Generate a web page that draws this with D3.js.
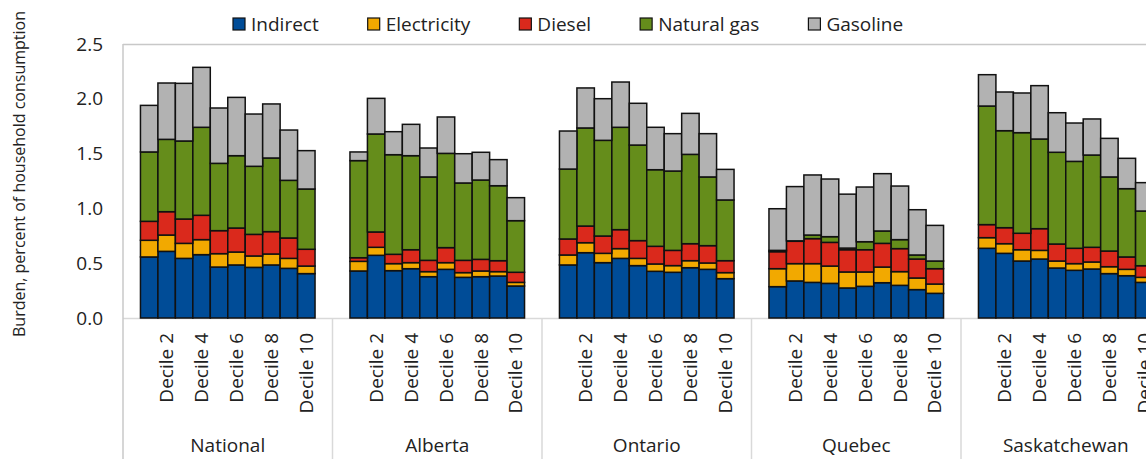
<!DOCTYPE html>
<html><head><meta charset="utf-8">
<script src="https://cdn.jsdelivr.net/npm/d3@7"></script>
<style>
html,body{margin:0;padding:0;background:#fff;overflow:hidden;}
text{font-family:"Open Sans","Noto Sans",sans-serif;fill:#222;}
</style></head>
<body><svg id="c" width="1146" height="459"></svg>
<script>
const regions = ["National","Alberta","Ontario","Quebec","Saskatchewan"];
const deciles = ["Decile 1","Decile 2","Decile 3","Decile 4","Decile 5","Decile 6","Decile 7","Decile 8","Decile 9","Decile 10"];
const seriesNames = ["Indirect","Electricity","Diesel","Natural gas","Gasoline"];
const seriesColors = ["#004C97","#F2A900","#DA291C","#658D1B","#B2B2B2"];
const yTicks = [0,0.5,1.0,1.5,2.0,2.5];

// values per region, ordered by decile 1..10
const indirect = {
  National:     [0.557,0.608,0.544,0.578,0.465,0.484,0.462,0.484,0.453,0.405],
  Alberta:      [0.429,0.572,0.432,0.450,0.377,0.444,0.371,0.377,0.383,0.292],
  Ontario:      [0.484,0.596,0.505,0.544,0.478,0.426,0.417,0.459,0.444,0.359],
  Quebec:       [0.286,0.338,0.325,0.316,0.274,0.289,0.322,0.298,0.259,0.225],
  Saskatchewan: [0.636,0.590,0.520,0.538,0.456,0.435,0.447,0.405,0.386,0.325]
};
const electricity = {
  National:     [0.152,0.149,0.137,0.137,0.122,0.118,0.104,0.100,0.091,0.069],
  Alberta:      [0.088,0.073,0.064,0.055,0.046,0.061,0.043,0.052,0.040,0.033],
  Ontario:      [0.091,0.091,0.085,0.089,0.066,0.067,0.061,0.064,0.058,0.055],
  Quebec:       [0.164,0.158,0.171,0.158,0.146,0.131,0.143,0.125,0.106,0.085],
  Saskatchewan: [0.097,0.088,0.103,0.079,0.064,0.061,0.064,0.063,0.058,0.046]
};
const diesel = {
  National:     [0.173,0.213,0.222,0.222,0.210,0.219,0.197,0.204,0.186,0.153],
  Alberta:      [0.033,0.140,0.085,0.118,0.103,0.137,0.112,0.106,0.100,0.092],
  Ontario:      [0.146,0.152,0.158,0.173,0.162,0.161,0.139,0.155,0.158,0.109],
  Quebec:       [0.155,0.204,0.228,0.216,0.203,0.203,0.216,0.210,0.173,0.140],
  Saskatchewan: [0.119,0.146,0.150,0.198,0.155,0.140,0.134,0.143,0.113,0.106]
};
const naturalGas = {
  National:     [0.633,0.660,0.712,0.803,0.614,0.660,0.621,0.672,0.526,0.550],
  Alberta:      [0.886,0.894,0.909,0.858,0.761,0.860,0.706,0.724,0.684,0.471],
  Ontario:      [0.638,0.895,0.873,0.934,0.872,0.699,0.724,0.815,0.627,0.554],
  Quebec:       [0.012,0.004,0.033,0.052,0.015,0.073,0.113,0.082,0.037,0.070],
  Saskatchewan: [1.082,0.885,0.918,0.818,0.837,0.793,0.842,0.676,0.623,0.499]
};
const gasoline = {
  National:     [0.425,0.514,0.526,0.547,0.505,0.532,0.477,0.493,0.459,0.350],
  Alberta:      [0.079,0.325,0.210,0.286,0.264,0.332,0.267,0.253,0.238,0.210],
  Ontario:      [0.347,0.365,0.380,0.413,0.381,0.387,0.341,0.374,0.395,0.279],
  Quebec:       [0.380,0.495,0.548,0.526,0.492,0.499,0.523,0.489,0.413,0.325],
  Saskatchewan: [0.286,0.353,0.362,0.487,0.361,0.350,0.329,0.352,0.277,0.259]
};
const seriesData = [indirect, electricity, diesel, naturalGas, gasoline];

const svg = d3.select("#c");
const mLeft = 123, mTop = 44, mBottom = 318, groupW = 209.5;
const x0 = d3.scaleBand().domain(regions).range([mLeft, mLeft + groupW*regions.length]).paddingInner(0).paddingOuter(0);
const x1 = d3.scaleBand().domain(deciles).range([0, x0.bandwidth()]).paddingInner(0).paddingOuter(1);
const y = d3.scaleLinear().domain([0,2.5]).range([mBottom, mTop]);

const rows = [];
regions.forEach(r => deciles.forEach((d,i) => {
  const row = {region:r, decile:d};
  seriesNames.forEach((s,k) => row[s] = seriesData[k][r][i]);
  rows.push(row);
}));
const stacked = d3.stack().keys(seriesNames)(rows);

const grid = "#c8c8c8";
svg.append("line").attr("x1",mLeft).attr("x2",1146).attr("y1",mTop+0.5).attr("y2",mTop+0.5).attr("stroke",grid).attr("stroke-width",1.5);
svg.append("line").attr("x1",mLeft).attr("x2",1146).attr("y1",mBottom+0.5).attr("y2",mBottom+0.5).attr("stroke","#d9d9d9").attr("stroke-width",1.5);
svg.append("line").attr("x1",mLeft).attr("x2",mLeft).attr("y1",mTop).attr("y2",459).attr("stroke",grid).attr("stroke-width",1.5);
regions.slice(1).forEach(r => {
  svg.append("line").attr("x1",x0(r)).attr("x2",x0(r)).attr("y1",mBottom).attr("y2",459).attr("stroke","#d9d9d9").attr("stroke-width",1.5);
});

const yAxis = d3.axisLeft(y).tickValues(yTicks).tickFormat(d3.format(".1f")).tickSize(0).tickPadding(20);
const ga = svg.append("g").attr("transform",`translate(${mLeft},0)`).call(yAxis);
ga.select(".domain").remove();
ga.selectAll("text").style("font-size","19px").attr("fill","#222").style("font-family","'Open Sans','Noto Sans',sans-serif");

stacked.forEach((layer,k) => {
  svg.append("g").selectAll("rect").data(layer).join("rect")
    .attr("x", d => x0(d.data.region) + x1(d.data.decile))
    .attr("width", x1.bandwidth())
    .attr("y", d => y(d[1]))
    .attr("height", d => Math.max(0, y(d[0]) - y(d[1])))
    .attr("fill", seriesColors[k])
    .attr("stroke","#111").attr("stroke-width",1.5);
});

regions.forEach(r => {
  deciles.forEach((d,i) => {
    if ((i+1) % 2 !== 0) return;
    const cx = x0(r) + x1(d) + x1.bandwidth()/2;
    svg.append("text").attr("transform",`translate(${cx},333) rotate(-90)`)
      .attr("text-anchor","end").attr("dy","0.35em").style("font-size","19px").text(d);
  });
  svg.append("text").attr("x", x0(r)+x0.bandwidth()/2).attr("y",452)
    .attr("text-anchor","middle").style("font-size","19px").text(r);
});

svg.append("text").attr("transform","translate(19,174) rotate(-90)").attr("text-anchor","middle")
  .attr("dy","0.35em").style("font-size","16px").text("Burden, percent of household consumption");

let lx = 233;
seriesNames.forEach((s,k) => {
  svg.append("rect").attr("x",lx).attr("y",18).attr("width",12).attr("height",12)
    .attr("fill",seriesColors[k]).attr("stroke","#111").attr("stroke-width",1.2);
  const t = svg.append("text").attr("x",lx+18).attr("y",24).attr("dy","0.35em").style("font-size","19px").text(s);
  lx += 18 + t.node().getComputedTextLength() + 49;
});
</script></body></html>
